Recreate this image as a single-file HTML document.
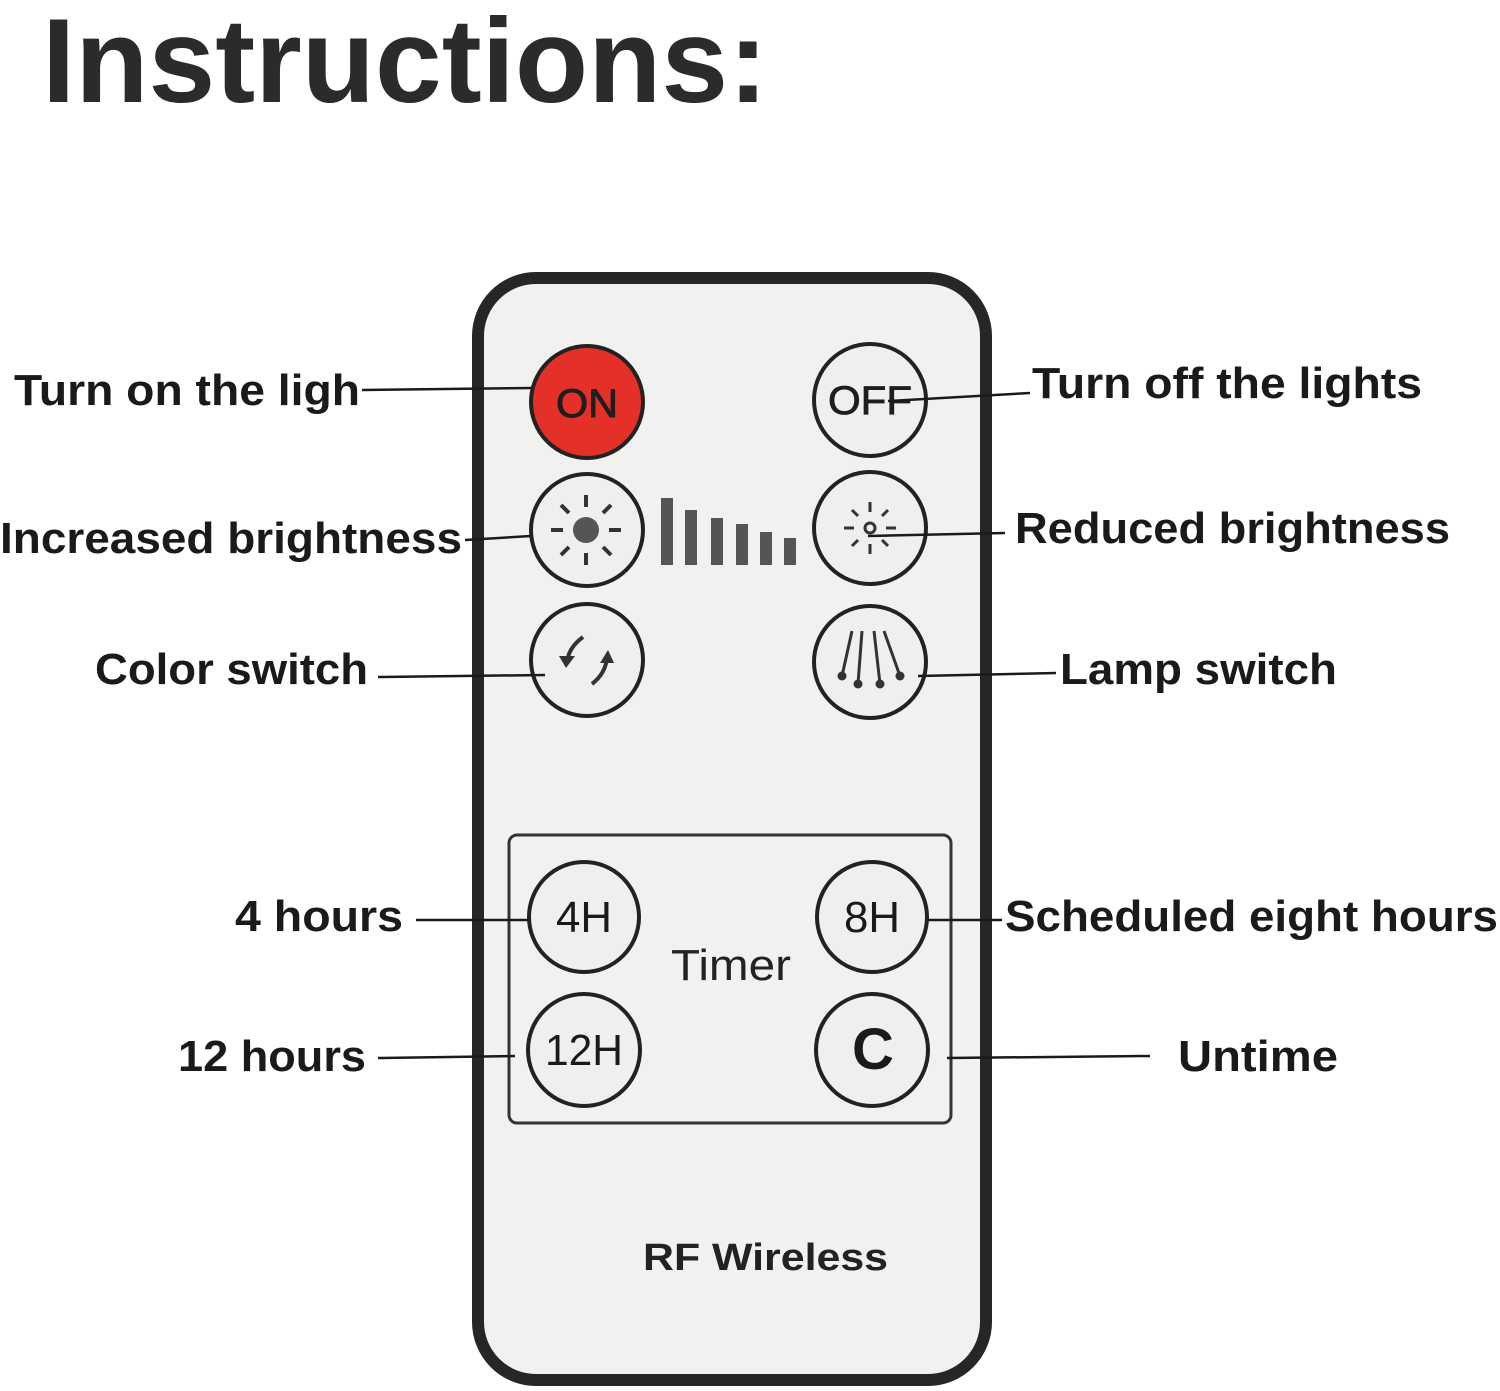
<!DOCTYPE html>
<html><head><meta charset="utf-8"><style>
html,body{margin:0;padding:0;background:#fff;}
svg{display:block;}
text{font-family:"Liberation Sans",sans-serif;}
</style></head><body>
<svg width="1500" height="1391" viewBox="0 0 1500 1391" xmlns="http://www.w3.org/2000/svg">
<rect width="1500" height="1391" fill="#fff"/>
<text x="42" y="102" font-size="120" font-weight="bold" fill="#2b2b2b" textLength="726" lengthAdjust="spacingAndGlyphs">Instructions:</text>

<rect x="478" y="278" width="508" height="1102" rx="58" fill="#f1f1f0" stroke="#262626" stroke-width="12"/>
<rect x="509" y="835" width="442" height="288" rx="8" fill="none" stroke="#333" stroke-width="3"/>

<g stroke="#222" stroke-width="4" fill="#efefee">
<circle cx="587" cy="402" r="56" fill="#e5302a"/>
<circle cx="870" cy="400" r="56"/>
<circle cx="587" cy="530" r="56"/>
<circle cx="870" cy="528" r="56"/>
<circle cx="587" cy="660" r="56"/>
<circle cx="870" cy="662" r="56"/>
<circle cx="584" cy="917" r="55"/>
<circle cx="872" cy="917" r="55"/>
<circle cx="584" cy="1050" r="56"/>
<circle cx="872" cy="1050" r="56"/>
</g>
<text x="587" y="417" font-size="40" text-anchor="middle" fill="#1e1e1e" stroke="#1e1e1e" stroke-width="1" textLength="62" lengthAdjust="spacingAndGlyphs">ON</text>
<text x="870" y="414" font-size="40" text-anchor="middle" fill="#1e1e1e" stroke="#1e1e1e" stroke-width="0.8" textLength="84" lengthAdjust="spacingAndGlyphs">OFF</text>
<g stroke="#333" stroke-width="4">
<circle cx="586" cy="530" r="13" fill="#555" stroke="none"/>
<line x1="586" y1="495" x2="586" y2="507"/><line x1="586" y1="553" x2="586" y2="565"/>
<line x1="551" y1="530" x2="563" y2="530"/><line x1="609" y1="530" x2="621" y2="530"/>
<line x1="561" y1="505" x2="569" y2="513"/><line x1="603" y1="547" x2="611" y2="555"/>
<line x1="611" y1="505" x2="603" y2="513"/><line x1="569" y1="547" x2="561" y2="555"/>
</g>
<g stroke="#333" stroke-width="3">
<circle cx="870" cy="528" r="5" fill="none"/>
<line x1="870" y1="502" x2="870" y2="512"/><line x1="870" y1="544" x2="870" y2="554"/>
<line x1="844" y1="528" x2="854" y2="528"/><line x1="886" y1="528" x2="896" y2="528"/>
<line x1="852" y1="510" x2="858" y2="516"/><line x1="882" y1="540" x2="888" y2="546"/>
<line x1="888" y1="510" x2="882" y2="516"/><line x1="858" y1="540" x2="852" y2="546"/>
</g>
<g fill="#555">
<rect x="661" y="498" width="12" height="67"/><rect x="685" y="510" width="12" height="55"/>
<rect x="711" y="518" width="12" height="47"/><rect x="736" y="524" width="12" height="41"/>
<rect x="760" y="532" width="12" height="33"/><rect x="784" y="538" width="12" height="27"/>
</g>
<g stroke="#333" stroke-width="4" fill="none">
<path d="M583 637 Q568 648 567 663"/><path d="M592 684 Q606 673 607 657"/>
</g>
<polygon points="559,656 575,656 566,668" fill="#333"/><polygon points="600,663 614,663 608,650" fill="#333"/>
<g stroke="#333" stroke-width="3">
<line x1="852" y1="631" x2="842" y2="676"/><line x1="862" y1="631" x2="858" y2="684"/>
<line x1="874" y1="631" x2="880" y2="684"/><line x1="884" y1="631" x2="900" y2="676"/>
</g>
<g fill="#333"><circle cx="842" cy="676" r="4.5"/><circle cx="858" cy="684" r="4.5"/><circle cx="880" cy="684" r="4.5"/><circle cx="900" cy="676" r="4.5"/></g>

<g font-size="44" fill="#1a1a1a" text-anchor="middle">
<text x="584" y="932" textLength="56" lengthAdjust="spacingAndGlyphs">4H</text>
<text x="872" y="932" textLength="56" lengthAdjust="spacingAndGlyphs">8H</text>
<text x="584" y="1065" textLength="78" lengthAdjust="spacingAndGlyphs">12H</text>
<text x="873" y="1069" font-size="58" font-weight="bold">C</text>
</g>
<text x="671" y="980" font-size="44" fill="#222" textLength="120" lengthAdjust="spacingAndGlyphs">Timer</text>
<text x="643" y="1270" font-size="38" font-weight="bold" fill="#222" textLength="245" lengthAdjust="spacingAndGlyphs">RF Wireless</text>

<g stroke="#1a1a1a" stroke-width="2.5">
<line x1="362" y1="390" x2="532" y2="388"/>
<line x1="888" y1="401" x2="1030" y2="393"/>
<line x1="465" y1="540" x2="531" y2="536"/>
<line x1="868" y1="536" x2="1005" y2="533"/>
<line x1="378" y1="677" x2="545" y2="675"/>
<line x1="918" y1="676" x2="1056" y2="673"/>
<line x1="416" y1="920" x2="530" y2="920"/>
<line x1="928" y1="920" x2="1002" y2="920"/>
<line x1="378" y1="1058" x2="515" y2="1056"/>
<line x1="947" y1="1058" x2="1150" y2="1056"/>
</g>

<g font-size="44" font-weight="bold" fill="#1a1a1a">
<text x="14" y="405" textLength="346" lengthAdjust="spacingAndGlyphs">Turn on the ligh</text>
<text x="1032" y="398" textLength="390" lengthAdjust="spacingAndGlyphs">Turn off the lights</text>
<text x="0" y="553" textLength="462" lengthAdjust="spacingAndGlyphs">Increased brightness</text>
<text x="1015" y="543" textLength="435" lengthAdjust="spacingAndGlyphs">Reduced brightness</text>
<text x="95" y="684" textLength="273" lengthAdjust="spacingAndGlyphs">Color switch</text>
<text x="1060" y="684" textLength="277" lengthAdjust="spacingAndGlyphs">Lamp switch</text>
<text x="235" y="931" textLength="168" lengthAdjust="spacingAndGlyphs">4 hours</text>
<text x="1005" y="931" textLength="493" lengthAdjust="spacingAndGlyphs">Scheduled eight hours</text>
<text x="178" y="1071" textLength="188" lengthAdjust="spacingAndGlyphs">12 hours</text>
<text x="1178" y="1071" textLength="160" lengthAdjust="spacingAndGlyphs">Untime</text>
</g>
</svg>
</body></html>
